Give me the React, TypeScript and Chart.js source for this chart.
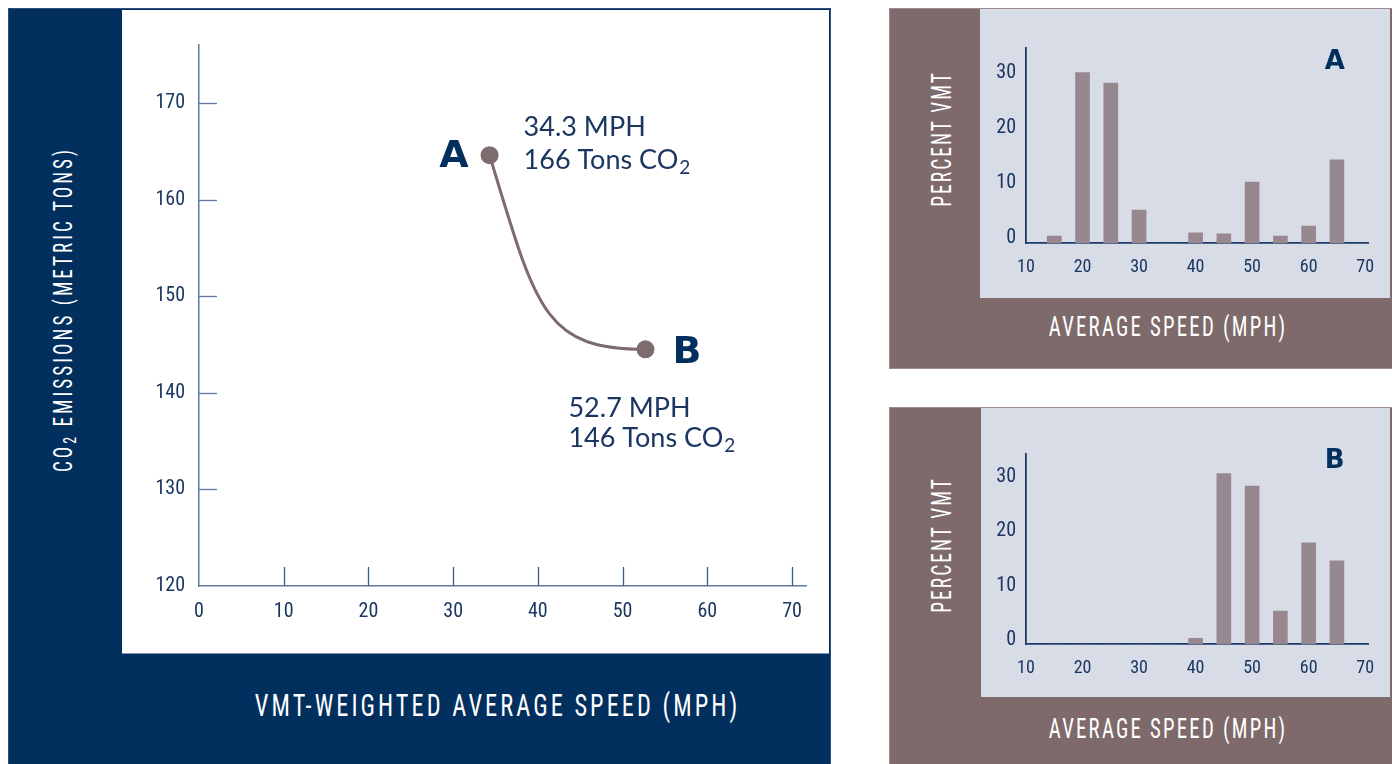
import React, { useEffect, useLayoutEffect, useRef, useState } from "react";
import { Chart, registerables } from "chart.js";

Chart.register(...registerables);

// ---------- data ----------
const MAIN_SPEED_MPH = [34.3, 52.7];
const MAIN_CO2_TONS = [164.6, 144.5];
const MAIN_POINT_NAMES = ["A", "B"];
const MAIN_SPEED_TEXT = ["34.3 MPH", "52.7 MPH"];
const MAIN_TONS_TEXT = ["166 Tons CO₂", "146 Tons CO₂"];
const MAIN_X_MIN = 0;
const MAIN_X_MAX = 71.65;
const MAIN_Y_MIN = 120;
const MAIN_Y_MAX = 176;
const MAIN_STEP_X = 10;
const MAIN_STEP_Y = 10;

const BIN_SPEEDS = [15, 20, 25, 30, 35, 40, 45, 50, 55, 60, 65];
const PCT_VMT_A = [1.3, 30.9, 29.0, 6.0, 0, 1.9, 1.7, 11.1, 1.3, 3.1, 15.1];
const PCT_VMT_B = [0, 0, 0, 0, 0, 1.1, 31.3, 29.0, 6.1, 18.6, 15.3];
const SMALL_X_MIN = 10;
const SMALL_X_MAX = 70.5;
const SMALL_Y_MAX_A = 35.4;
const SMALL_Y_MAX_B = 34.9;

// ---------- style ----------
const NAVY = "#012f5e";
const TEXT_NAVY = "#1a3661";
const MAUVE = "#7e6a6b";
const LIGHT = "#d8dce7";
const BAR = "#978890";
const POINT = "#7d6b6e";
const AXIS_MAIN = "#5f7ca0";
const TICK_FONT = "'Roboto Condensed', Roboto, sans-serif";
const TITLE_FONT = "'Roboto Condensed', Roboto, sans-serif";
const LETTER_FONT = "'DejaVu Sans', sans-serif";

// label placement relative to each point (pixels)
const LABEL_LAYOUT = [
  { name: { dx: -21, dy: 12, align: "right" }, text: { dx: 34, dy1: -19, dy2: 14 } },
  { name: { dx: 27, dy: 14, align: "left" }, text: { dx: -77, dy1: 68, dy2: 98 } },
];

function drawTextWithSub(ctx: CanvasRenderingContext2D, text: string, x: number, y: number) {
  const sub = text.endsWith("₂");
  const base = sub ? text.slice(0, -1) : text;
  ctx.font = "400 27px Lato";
  ctx.textAlign = "left";
  ctx.textBaseline = "alphabetic";
  ctx.fillText(base, x, y);
  if (sub) {
    const w = ctx.measureText(base).width;
    ctx.font = "400 19px Lato";
    ctx.fillText("2", x + w + 1, y + 5);
  }
}

const curvePlugin = {
  id: "curve",
  beforeDatasetsDraw(chart: any) {
    const meta = chart.getDatasetMeta(0);
    const a = meta.data[0];
    const b = meta.data[1];
    if (!a || !b) return;
    const dx = b.x - a.x;
    const dy = b.y - a.y;
    const ctx = chart.ctx;
    ctx.save();
    ctx.strokeStyle = POINT;
    ctx.lineWidth = 3;
    ctx.lineCap = "round";
    ctx.beginPath();
    ctx.moveTo(a.x, a.y);
    ctx.bezierCurveTo(a.x + 0.3 * dx, a.y + 0.8 * dy, a.x + 0.35 * dx, b.y, b.x, b.y);
    ctx.stroke();
    ctx.restore();
  },
  afterDatasetsDraw(chart: any) {
    const meta = chart.getDatasetMeta(0);
    const ctx = chart.ctx;
    ctx.save();
    meta.data.forEach((el: any, i: number) => {
      const lay = LABEL_LAYOUT[i];
      ctx.fillStyle = NAVY;
      ctx.font = "700 38px " + LETTER_FONT;
      ctx.textAlign = lay.name.align;
      ctx.textBaseline = "alphabetic";
      ctx.fillText(MAIN_POINT_NAMES[i], el.x + lay.name.dx, el.y + lay.name.dy);
      ctx.fillStyle = TEXT_NAVY;
      ctx.font = "400 27px Lato";
      ctx.textAlign = "left";
      ctx.fillText(MAIN_SPEED_TEXT[i], el.x + lay.text.dx, el.y + lay.text.dy1);
      drawTextWithSub(ctx, MAIN_TONS_TEXT[i], el.x + lay.text.dx, el.y + lay.text.dy2);
    });
    ctx.restore();
  },
};

const inwardTicksPlugin = {
  id: "inwardTicks",
  afterDraw(chart: any) {
    const { ctx, scales, chartArea } = chart;
    const x = scales.x;
    const y = scales.y;
    ctx.save();
    ctx.lineWidth = 1.3;
    ctx.strokeStyle = "#3e5b84";
    x.ticks.forEach((t: any) => {
      if (t.value === x.min) return;
      const px = Math.round(x.getPixelForValue(t.value)) + 0.5;
      ctx.beginPath();
      ctx.moveTo(px, chartArea.bottom);
      ctx.lineTo(px, chartArea.bottom - 19);
      ctx.stroke();
    });
    ctx.strokeStyle = AXIS_MAIN;
    y.ticks.forEach((t: any) => {
      if (t.value === y.min) return;
      const py = Math.round(y.getPixelForValue(t.value)) + 0.5;
      ctx.beginPath();
      ctx.moveTo(chartArea.left, py);
      ctx.lineTo(chartArea.left + 18, py);
      ctx.stroke();
    });
    ctx.restore();
  },
};

function MainChart() {
  const ref = useRef<HTMLCanvasElement>(null);
  useEffect(() => {
    const chart = new Chart(ref.current!, {
      type: "scatter",
      data: {
        datasets: [
          {
            data: MAIN_SPEED_MPH.map((s, i) => ({ x: s, y: MAIN_CO2_TONS[i] })),
            pointRadius: 9,
            pointBackgroundColor: POINT,
            pointBorderWidth: 0,
            showLine: false,
          },
        ],
      },
      options: {
        animation: false,
        responsive: false,
        events: [],
        layout: { padding: { top: 35, right: 24, left: 0, bottom: 0 } },
        plugins: { legend: { display: false }, tooltip: { enabled: false } },
        scales: {
          x: {
            type: "linear",
            min: MAIN_X_MIN,
            max: MAIN_X_MAX,
            grid: { display: false, drawTicks: false },
            border: { display: true, color: AXIS_MAIN, width: 1.5 },
            ticks: {
              stepSize: MAIN_STEP_X,
              includeBounds: false,
              padding: 14,
              color: TEXT_NAVY,
              font: { family: TICK_FONT, size: 20 },
              maxRotation: 0,
            },
            afterFit: (s: any) => {
              s.height = 67;
            },
          },
          y: {
            type: "linear",
            min: MAIN_Y_MIN,
            max: MAIN_Y_MAX,
            grid: { display: false, drawTicks: false },
            border: { display: true, color: AXIS_MAIN, width: 1.5 },
            ticks: {
              stepSize: MAIN_STEP_Y,
              includeBounds: false,
              padding: 14,
              color: TEXT_NAVY,
              font: { family: TICK_FONT, size: 20 },
            },
            afterFit: (s: any) => {
              s.width = 77;
            },
          },
        },
      },
      plugins: [curvePlugin, inwardTicksPlugin],
    } as any);
    return () => chart.destroy();
  }, []);
  return <canvas ref={ref} width={708} height={643} style={{ position: "absolute", left: 122, top: 10 }} />;
}

function SmallChart(props: { values: number[]; yMax: number; top: number; labelOffset: number; bottomH: number; padTop: number }) {
  const ref = useRef<HTMLCanvasElement>(null);
  useEffect(() => {
    const chart = new Chart(ref.current!, {
      type: "bar",
      data: {
        datasets: [
          {
            data: BIN_SPEEDS.map((s, i) => ({ x: s, y: props.values[i] })),
            backgroundColor: BAR,
            borderWidth: 0,
            barThickness: 14,
          },
        ],
      },
      options: {
        animation: false,
        responsive: false,
        events: [],
        layout: { padding: { top: props.padTop, right: 22, left: 0, bottom: 0 } },
        plugins: { legend: { display: false }, tooltip: { enabled: false } },
        scales: {
          x: {
            type: "linear",
            min: SMALL_X_MIN,
            max: SMALL_X_MAX,
            offset: false,
            grid: { display: false, drawTicks: false, offset: false },
            border: { display: true, color: "#1d3b68", width: 1.8 },
            ticks: {
              stepSize: 10,
              includeBounds: false,
              padding: 13,
              color: TEXT_NAVY,
              font: { family: TICK_FONT, size: 18 },
              maxRotation: 0,
            },
            afterFit: (s: any) => {
              s.height = props.bottomH;
            },
          },
          y: {
            type: "linear",
            min: 0,
            max: props.yMax,
            grid: { display: false, drawTicks: false },
            border: { display: true, color: "#1d3b68", width: 1.8 },
            ticks: {
              stepSize: 10,
              includeBounds: false,
              padding: 10,
              labelOffset: props.labelOffset,
              color: TEXT_NAVY,
              font: { family: TICK_FONT, size: 20 },
            },
            afterFit: (s: any) => {
              s.width = 46;
            },
          },
        },
      },
    } as any);
    return () => chart.destroy();
  }, []);
  return <canvas ref={ref} width={410} height={289} style={{ position: "absolute", left: 980, top: props.top }} />;
}

function FitText(props: {
  cx: number;
  cy: number;
  width: number;
  size: number;
  spacing: number;
  rotate?: number;
  color?: string;
  children: React.ReactNode;
}) {
  const ref = useRef<HTMLSpanElement>(null);
  const [scale, setScale] = useState(1);
  useLayoutEffect(() => {
    const w = ref.current!.offsetWidth - 2 * props.spacing;
    if (w > 0) setScale(props.width / w);
  }, []);
  return (
    <div
      style={{
        position: "absolute",
        left: props.cx,
        top: props.cy,
        transform: `translate(-50%,-50%) rotate(${props.rotate || 0}deg) scaleX(${scale})`,
        whiteSpace: "nowrap",
        fontFamily: TITLE_FONT,
        fontSize: props.size,
        letterSpacing: props.spacing,
        color: props.color || "#ffffff",
        lineHeight: 1,
      }}
    >
      <span ref={ref} style={{ paddingLeft: props.spacing, display: "inline-block" }}>
        {props.children}
      </span>
    </div>
  );
}

export default function App() {
  return (
    <div style={{ position: "absolute", left: 0, top: 0, width: 1392, height: 764, overflow: "hidden", background: "#ffffff" }}>
      {/* main panel */}
      <div style={{ position: "absolute", left: 8, top: 8, width: 821, height: 780, background: NAVY, border: "1px solid #2c4e78" }} />
      <div style={{ position: "absolute", left: 122, top: 10, width: 707, height: 643, background: "#ffffff", borderBottom: "1px solid #7d93ad" }} />
      <MainChart />
      <FitText cx={63} cy={310.5} width={322} size={25} spacing={4} rotate={-90}>
        CO<span style={{ fontSize: "0.72em", position: "relative", top: "0.22em" }}>2</span> EMISSIONS (METRIC TONS)
      </FitText>
      <FitText cx={496} cy={704.5} width={482} size={32} spacing={4}>
        VMT-WEIGHTED AVERAGE SPEED (MPH)
      </FitText>

      {/* panel A */}
      <div style={{ position: "absolute", left: 889, top: 8, width: 502, height: 359, background: MAUVE, border: "1px solid #9d8c8e" }} />
      <div style={{ position: "absolute", left: 980, top: 9, width: 410, height: 289, background: LIGHT }} />
      <SmallChart values={PCT_VMT_A} yMax={SMALL_Y_MAX_A} top={9} labelOffset={-5} bottomH={54.7} padTop={38.7} />
      <div style={{ position: "absolute", left: 1334.7, top: 60, transform: "translate(-50%,-50%)", font: "700 26px " + LETTER_FONT, color: NAVY, lineHeight: 1 }}>A</div>
      <FitText cx={942} cy={140} width={134} size={28} spacing={3} rotate={-90}>
        PERCENT VMT
      </FitText>
      <FitText cx={1167} cy={327} width={236} size={28} spacing={3}>
        AVERAGE SPEED (MPH)
      </FitText>

      {/* panel B */}
      <div style={{ position: "absolute", left: 889, top: 407, width: 502, height: 380, background: MAUVE, border: "1px solid #9d8c8e" }} />
      <div style={{ position: "absolute", left: 981, top: 408, width: 409, height: 289, background: LIGHT }} />
      <SmallChart values={PCT_VMT_B} yMax={SMALL_Y_MAX_B} top={408} labelOffset={-4} bottomH={52.7} padTop={46} />
      <div style={{ position: "absolute", left: 1334.7, top: 459, transform: "translate(-50%,-50%)", font: "700 26px " + LETTER_FONT, color: NAVY, lineHeight: 1 }}>B</div>
      <FitText cx={942} cy={546.3} width={134} size={28} spacing={3} rotate={-90}>
        PERCENT VMT
      </FitText>
      <FitText cx={1167} cy={729} width={236} size={28} spacing={3}>
        AVERAGE SPEED (MPH)
      </FitText>
    </div>
  );
}
